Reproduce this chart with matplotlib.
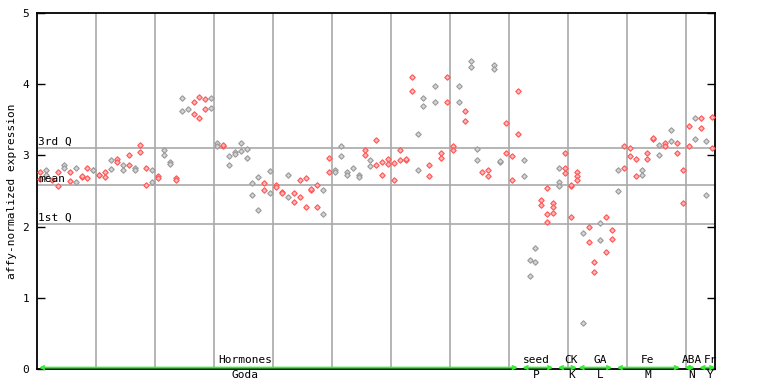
import matplotlib
matplotlib.use("Agg")
import matplotlib.pyplot as plt

# valores por muestra (indice 0..114), una lista por replica
valores = [
    [2.77, 2.67], [2.80, 2.72], [2.65], [2.77, 2.57], [2.86, 2.82],
    [2.77, 2.64], [2.83, 2.62], [2.70, 2.71], [2.83, 2.68], [2.79, 2.80],
    [2.72, 2.73], [2.77, 2.70], [2.94, 2.81], [2.95, 2.91], [2.86, 2.80],
    [3.01, 2.87], [2.82, 2.79], [3.14, 3.05], [2.83, 2.59], [2.80, 2.63],
    [2.71, 2.68], [3.07, 3.01], [2.91, 2.88], [2.68, 2.65], [3.80, 3.63],
    [3.65], [3.75, 3.58], [3.82, 3.53], [3.79, 3.65], [3.80, 3.66],
    [3.18, 3.13], [3.13, 3.14], [2.99, 2.87], [3.05, 3.02], [3.17, 3.06],
    [3.09, 2.97], [2.61, 2.44], [2.69, 2.24], [2.61, 2.51], [2.78, 2.47],
    [2.59, 2.56], [2.49, 2.47], [2.72, 2.42], [2.47, 2.35], [2.66, 2.42],
    [2.68, 2.27], [2.52, 2.53], [2.58, 2.28], [2.51, 2.17], [2.97, 2.77],
    [2.79, 2.77], [3.13, 2.99], [2.77, 2.73], [2.83], [2.72, 2.69],
    [3.07, 3.00], [2.93, 2.85], [3.21, 2.86], [2.91, 2.73], [2.95, 2.88],
    [2.89, 2.65], [3.07, 2.93], [2.94, 2.95], [4.10, 3.91], [3.30, 2.79],
    [3.80, 3.70], [2.87, 2.71], [3.97, 3.75], [3.04, 2.96], [4.10, 3.75],
    [3.13, 3.07], [3.97, 3.75], [3.63, 3.49], [4.32, 4.24], [3.09, 2.93],
    [2.76], [2.80, 2.71], [4.27, 4.21], [2.91, 2.92], [3.46, 3.04],
    [2.99, 2.66], [3.90, 3.30], [2.93, 2.71], [1.53, 1.30], [1.70, 1.50],
    [2.37, 2.31], [2.54, 2.17, 2.07], [2.33, 2.27, 2.19], [2.83, 2.63, 2.57], [3.04, 2.83, 2.75],
    [2.57, 2.58, 2.14], [2.76, 2.71, 2.66], [1.91, 0.64], [2.00, 1.79], [1.50, 1.36],
    [2.05, 1.81], [2.13, 1.65], [1.95, 1.82], [2.79, 2.50], [3.13, 2.82],
    [3.10, 2.99], [2.95, 2.71], [2.80, 2.72], [3.04, 2.95], [3.23, 3.24],
    [3.14, 3.00], [3.17, 3.13], [3.35, 3.20], [3.18, 3.04], [2.80, 2.33],
    [3.41, 3.13], [3.52, 3.23], [3.52, 3.39], [3.20, 2.44], [3.54, 3.10],
]
colores = ("rgrrgrgrrg" "rrgrgrgrrg" "rggrggrrrg" "grggggggrg" "rrgrrrrrgr"
           "gggggrgrrr" "rrrrggrgrr" "rgrggrrggr" "rrgggrrrgr" "rrgrrgrrgr"
           "rrgrrgrgrr" "rgrgr")

tercer_q = 3.10
media = 2.58
primer_q = 2.03

# grupos: etiqueta arriba, etiqueta abajo, inicio, fin, centro etiqueta
grupos_arriba = ["Hormones", "seed", "CK", "GA", "Fe", "ABA", "Fr"]
grupos_abajo = ["Goda", "P", "K", "L", "M", "N", "Y"]
grupos_inicio = [0, 82, 88, 91.5, 98, 109.5, 112]
grupos_fin = [81.5, 87.5, 91.5, 97.5, 109, 111.5, 115]
grupos_centro = [35.2, 84.7, 90.6, 95.5, 103.5, 111.0, 114.2]

n = len(valores)
fig = plt.figure(figsize=(7.68, 3.84), dpi=100)
ax = fig.add_axes([37.3 / 768, 15 / 384, 678 / 768, 356 / 384])
gris = "#a9a9a9"
fuente = "DejaVu Sans Mono"

for x in range(10, n, 10):
    ax.axvline(x, color=gris, lw=1.2, zorder=1)
for y, txt in [(tercer_q, "3rd Q"), (media, "mean"), (primer_q, "1st Q")]:
    ax.axhline(y, color=gris, lw=1.2, zorder=1)
    ax.text(0.1, y + 0.02, txt, fontsize=8, family=fuente, va="bottom", ha="left", zorder=4)

for i, vals in enumerate(valores):
    c = "#ff5555" if colores[i] == "r" else "#999999"
    fc = "#ffb8b8" if colores[i] == "r" else "#d4d4d4"
    ax.plot([i + 0.5] * len(vals), vals, ls="none", marker="D", ms=2.8,
            mfc=fc, mec=c, mew=0.8, zorder=3)

# flechas verdes de los grupos
for ini, fin, arr, abj, cen in zip(grupos_inicio, grupos_fin, grupos_arriba, grupos_abajo, grupos_centro):
    ax.annotate("", xy=(fin, 0.02), xytext=(ini + 0.3, 0.02),
                arrowprops=dict(arrowstyle="<->", color="#33ee33", lw=1.3,
                                shrinkA=0, shrinkB=0, mutation_scale=6),
                annotation_clip=False, zorder=5)
    ax.text(cen, 0.06, arr, fontsize=8, family=fuente, ha="center", va="bottom")
    ax.text(cen, -0.02, abj, fontsize=8, family=fuente, ha="center", va="top")

ax.set_xlim(0, n)
ax.set_ylim(0, 5)
ax.set_xticks([])
ax.set_yticks(range(6))
ax.tick_params(axis="y", direction="in", length=6, width=1, right=True, labelsize=8, pad=6)
for lab in ax.get_yticklabels():
    lab.set_family(fuente)
for s in ax.spines.values():
    s.set_linewidth(1.3)
ax.set_ylabel("affy-normalized expression", fontsize=8, family=fuente, labelpad=4)

plt.savefig("out.png", dpi=100)
